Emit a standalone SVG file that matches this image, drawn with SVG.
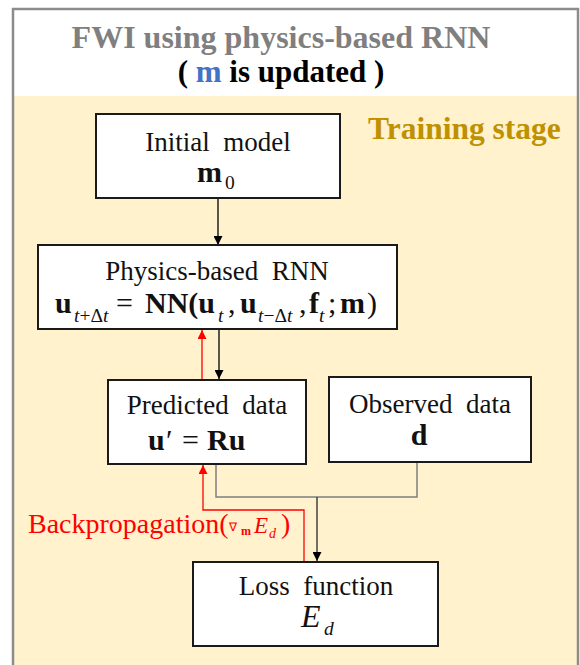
<svg xmlns="http://www.w3.org/2000/svg" width="580" height="665" viewBox="0 0 580 665" font-family="'Liberation Serif', 'Times New Roman', serif">
  <defs>
    <marker id="arrow-black" viewBox="0 0 10 10" refX="10" refY="5" markerWidth="9" markerHeight="9" markerUnits="userSpaceOnUse" orient="auto">
      <path d="M0,0 L10,5 L0,10 Z" fill="#000"/>
    </marker>
    <marker id="arrow-red" viewBox="0 0 10 10" refX="10" refY="5" markerWidth="9" markerHeight="9" markerUnits="userSpaceOnUse" orient="auto">
      <path d="M0,0 L10,5 L0,10 Z" fill="#ff0000"/>
    </marker>
    <style>
      text { font-family: "Liberation Serif", "Times New Roman", serif; }
      .box { fill: #ffffff; stroke: #1a1a1a; stroke-width: 2; }
      .lbl { font-size: 27px; fill: #111; }
      .math { font-size: 30px; font-weight: bold; fill: #111; }
      .sub { font-size: 19.5px; font-style: italic; font-weight: normal; fill: #111; }
      .up { font-style: normal; }
      .plain { font-weight: normal; }
      .link { fill: none; stroke: #000; stroke-width: 1.3; }
      .gray { fill: none; stroke: #7f7f7f; stroke-width: 1.5; }
      .back { fill: none; stroke: #ff0000; stroke-width: 1.3; }
    </style>
  </defs>

  <!-- frame and stage background -->
  <rect x="13" y="9" width="565" height="670" fill="#ffffff"/>
  <rect x="14" y="96" width="563" height="580" fill="#fff2cc"/>
  <rect x="13" y="9" width="565" height="670" fill="none" stroke="#8c8c8c" stroke-width="2.5"/>

  <!-- heading, two lines -->
  <g id="title">
    <text text-anchor="middle" font-weight="bold">
      <tspan x="283" y="48" font-size="32" fill="#7f7f7f">FWI using physics-based RNN</tspan>
      <tspan x="281" y="82" font-size="31" fill="#000">( <tspan fill="#4472c4">m</tspan> is updated )</tspan>
    </text>
  </g>

  <g id="stage-label">
    <text x="368" y="139" font-size="31.5" font-weight="bold" fill="#bf9000">Training stage</text>
  </g>

  <!-- connectors -->
  <g id="connectors">
    <line class="link" x1="218" y1="198" x2="218" y2="245" marker-end="url(#arrow-black)"/>
    <line class="link" x1="219" y1="329" x2="219" y2="379" marker-end="url(#arrow-black)"/>
    <line class="back" x1="202" y1="379" x2="202" y2="330" marker-end="url(#arrow-red)"/>
    <polyline class="gray" points="216,465 216,497 417,497 417,462"/>
    <line x1="317" y1="497" x2="317" y2="561" stroke="#404040" stroke-width="1.5" marker-end="url(#arrow-black)"/>
    <polyline class="back" points="304,562 304,510 203,510 203,465" marker-end="url(#arrow-red)"/>
  </g>

  <g id="initial-model">
    <rect class="box" x="96" y="114" width="244" height="84"/>
    <text x="218" y="151" text-anchor="middle" class="lbl">Initial&#160; model</text>
    <text x="197" y="182" class="math">m</text>
    <text x="225" y="189" class="sub up">0</text>
  </g>

  <g id="physics-rnn">
    <rect class="box" x="38" y="245" width="359" height="84"/>
    <text x="217" y="280" text-anchor="middle" class="lbl">Physics-based&#160; RNN</text>
    <text x="55" y="313" class="math">u</text>
    <text x="74" y="322" class="sub">t<tspan class="up">+Δ</tspan>t</text>
    <text x="116" y="313" class="math plain">=</text>
    <text x="145" y="313" class="math">NN(u</text>
    <text x="218" y="322" class="sub">t</text>
    <text x="228" y="313" class="math plain">,</text>
    <text x="240" y="313" class="math">u</text>
    <text x="258" y="322" class="sub">t<tspan class="up">−Δ</tspan>t</text>
    <text x="299" y="313" class="math plain">,</text>
    <text x="309" y="313" class="math">f</text>
    <text x="319" y="322" class="sub">t</text>
    <text x="328" y="313" class="math plain">;</text>
    <text x="340" y="313" class="math" fill="#1e90ff">m</text>
    <text x="367" y="313" class="math plain">)</text>
  </g>

  <g id="predicted-data">
    <rect class="box" x="108" y="380" width="198" height="84"/>
    <text x="207" y="414" text-anchor="middle" class="lbl">Predicted&#160; data</text>
    <text x="148" y="450" class="math">u</text>
    <text x="166" y="450" class="math plain">′</text>
    <text x="182" y="450" class="math plain">=</text>
    <text x="207" y="450" class="math">Ru</text>
  </g>

  <g id="observed-data">
    <rect class="box" x="329" y="377" width="202" height="85"/>
    <text x="430" y="413" text-anchor="middle" class="lbl">Observed&#160; data</text>
    <text x="419" y="445" text-anchor="middle" class="math">d</text>
  </g>

  <g id="loss-function">
    <rect class="box" x="193" y="562" width="245" height="84"/>
    <text x="316" y="595" text-anchor="middle" class="lbl">Loss&#160; function</text>
    <text x="301" y="627" font-size="32" font-style="italic" fill="#111">E</text>
    <text x="324" y="635" class="sub" font-size="19">d</text>
  </g>

  <g id="backprop-label">
    <text fill="#ff0000" font-size="28">
      <tspan x="28" y="533">Backpropagation(</tspan><tspan x="229" y="531" font-size="12">∇</tspan><tspan x="241" y="535" font-size="12" font-weight="bold">m</tspan><tspan x="254" y="533" font-size="23" font-style="italic">E</tspan><tspan x="269" y="538" font-size="14" font-style="italic">d</tspan><tspan x="281" y="533">)</tspan>
    </text>
  </g>
</svg>
